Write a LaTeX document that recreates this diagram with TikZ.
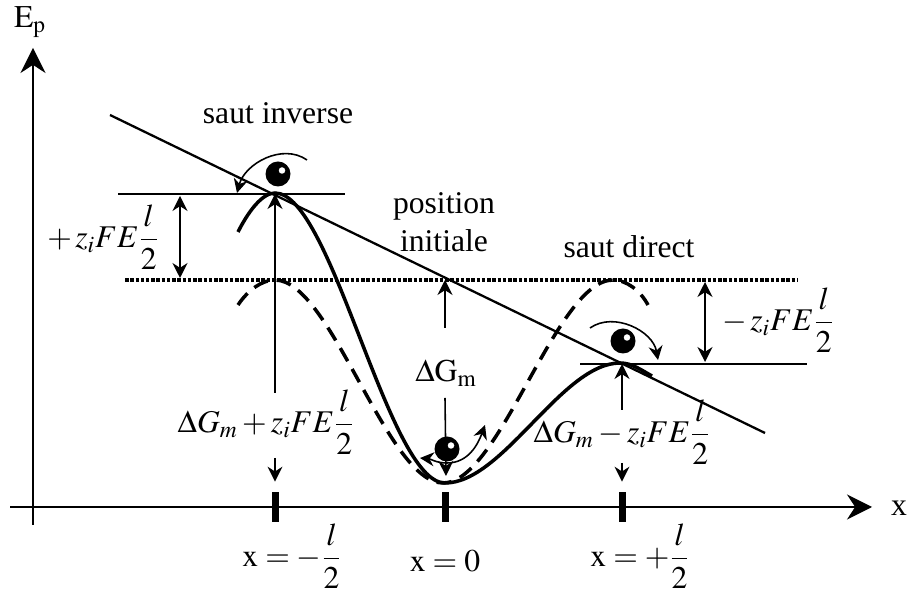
\documentclass[tikz,border=0pt]{standalone}
\usepackage{amsmath}
\usepackage{mathptmx}
\usepackage[no-math]{fontspec}
\setmainfont{Liberation Serif}
\usetikzlibrary{arrows.meta}

\begin{document}
\begin{tikzpicture}[x=0.02cm, y=0.02cm, >=Stealth,
  font=\fontsize{18}{21.6}\selectfont,
  axe/.style={->, line width=1.2pt, >={Stealth[length=5mm,width=5mm]}},
  hline/.style={line width=0.85pt},
  pente/.style={line width=1.3pt},
  profil/.style={line width=2pt},
  profilsym/.style={line width=2pt, dash pattern=on 0.3cm off 0.18cm},
  niveau/.style={line width=2pt, dash pattern=on 0.07cm off 0.035cm},
  ptr/.style={->, line width=0.9pt, >={Stealth[length=3mm,width=3mm]}},
  saut/.style={->, line width=0.9pt, >={Stealth[length=2.8mm,width=2.8mm]}},
  dimarr/.style={<->, line width=0.9pt, >={Stealth[length=3mm,width=3mm]}},
  tickmark/.style={rectangle, fill=black, inner sep=0pt, minimum width=0.14cm, minimum height=0.6cm},
  ball/.style={circle, fill=black, inner sep=0pt, minimum size=0.5cm,
    path picture={\fill[white] ([shift={(0.08cm,0.07cm)}]path picture bounding box.center) circle (0.065cm);}},
  lbl/.style={inner sep=1pt, align=center}]
\useasboundingbox (0,0) rectangle (909,594);

% axes
\coordinate (ybot) at (33,69);
\coordinate (ytop) at (33,546);
\coordinate (xleft) at (10,87);
\coordinate (xright) at (872,87);
\draw[axe] (ybot) -- (ytop);
\draw[axe] (xleft) -- (xright);
\node[lbl] (Ep) at (30,572) {$\mathrm{E_p}$};
\node[lbl] (xlab) at (899,86) {x};

% graduations
\node[tickmark] (tkL) at (275,87) {};
\node[tickmark] (tkC) at (445,87) {};
\node[tickmark] (tkR) at (622,87) {};
\node[lbl] (xm) at (292,38) {$\mathrm{x}=-\dfrac{l}{2}$};
\node[lbl] (x0) at (445,33) {$\mathrm{x}=0$};
\node[lbl] (xp) at (640,38) {$\mathrm{x}=+\dfrac{l}{2}$};

% niveaux
\coordinate (pL) at (275,400);
\coordinate (pR) at (622,230);
\coordinate (m0) at (445,314);
\draw[hline] (118,400) -- (345,400);
\draw[hline] (580,230) -- (807,230);
\draw[niveau] (125,314) -- (797,314);
\draw[pente] (110,479) -- (765,161);

% profils
\draw[profilsym] (238,289) .. controls (248,304) and (262,314) .. (275,314)
  .. controls (331,314) and (387,111) .. (443,111)
  .. controls (500,111) and (556,314) .. (613,314)
  .. controls (626,314) and (640,304) .. (648,289);
\draw[profil] (238,362) .. controls (248,382) and (262,401) .. (275,401)
  .. controls (332,401) and (388,111) .. (445,111)
  .. controls (503,111) and (562,231) .. (620,231)
  .. controls (632,231) and (641,224) .. (652,218);

% cotes
\draw[dimarr] (180,398) -- (180,316);
\draw[dimarr] (705,312) -- (705,232);
\node[lbl] (dEL) at (103,357) {$+\,z_iFE\dfrac{l}{2}$};
\node[lbl] (dER) at (778,274) {$-\,z_iFE\dfrac{l}{2}$};

% barrieres
\node[lbl] (dG) at (446,221) {$\Delta\mathrm{G_m}$};
\node[lbl] (dGL) at (266,172) {$\Delta G_m+z_iFE\dfrac{l}{2}$};
\node[lbl] (dGR) at (622,162) {$\Delta G_m-z_iFE\dfrac{l}{2}$};
\coordinate (aL) at (275,201);
\coordinate (bL) at (275,136);
\coordinate (aC) at (445,266);
\coordinate (bC) at (445,196);
\coordinate (cC) at (446,118);
\coordinate (aR) at (622,184);
\coordinate (bR) at (622,131);
\draw[ptr] (aL) -- (pL);
\draw[ptr] (bL) -- ([yshift=0.2cm]tkL.north);
\draw[ptr] (aC) -- (m0);
\draw[ptr] (bC) -- (cC);
\draw[ptr] (aR) -- (pR);
\draw[ptr] (bR) -- ([yshift=0.2cm]tkR.north);

% sauts
\coordinate (siA) at (307,434);
\coordinate (siB) at (237,401);
\coordinate (sdA) at (590,266);
\coordinate (sdB) at (658,234);
\coordinate (cb) at (447,131);
\coordinate (cup) at (485,169);
\coordinate (cleft) at (420,136);
\draw[saut] (siA) to[out=145,in=75] (siB);
\draw[saut] (sdA) to[out=35,in=100] (sdB);
\draw[saut] (cb) to[out=0,in=-110] (cup);
\draw[saut] (cb) to[out=180,in=-5] (cleft);
\node[ball] (ballL) at (278,420) {};
\node[ball] (ballC) at (447,145) {};
\node[ball] (ballR) at (623,253) {};

% textes
\node[lbl] (sinv) at (278,481) {saut inverse};
\node[lbl] (pinit) at (444,372) {position\\initiale};
\node[lbl] (sdir) at (629,347) {saut direct};
\end{tikzpicture}
\end{document}
